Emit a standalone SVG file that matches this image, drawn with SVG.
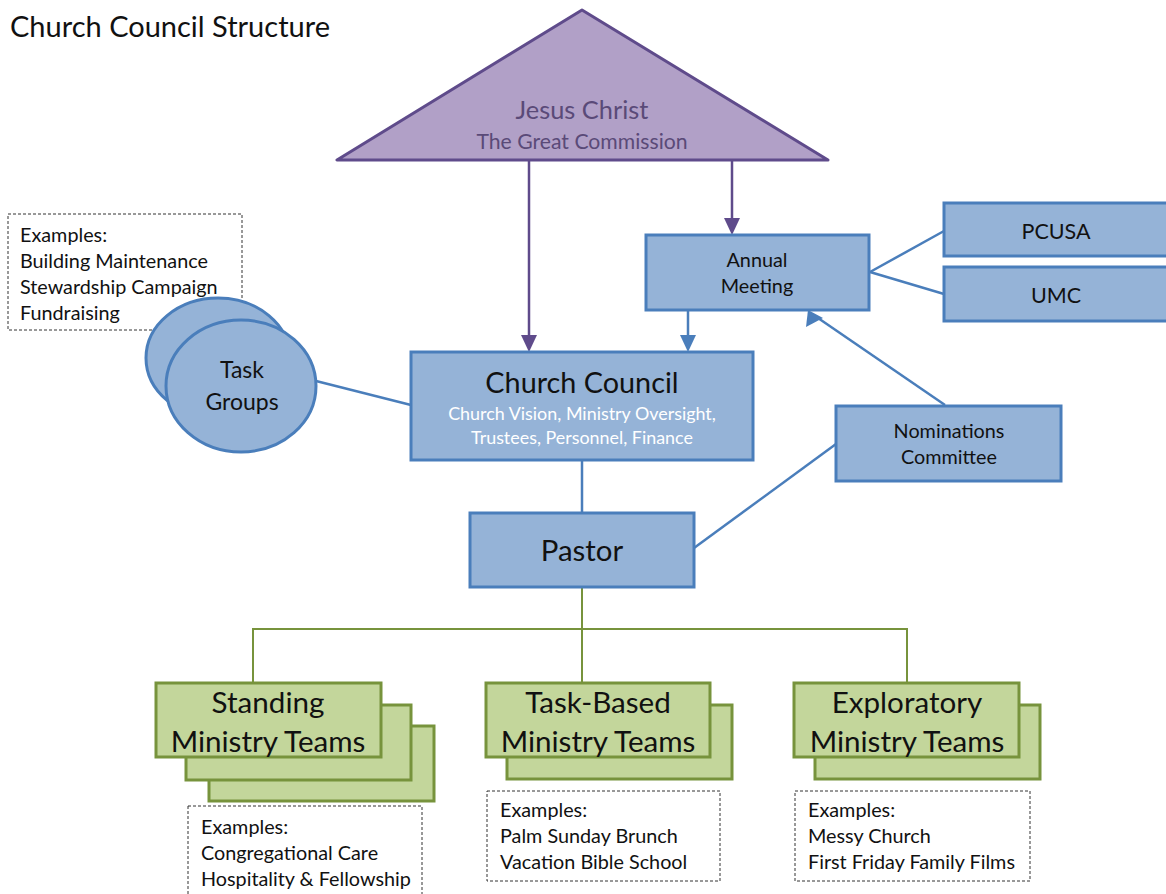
<svg xmlns="http://www.w3.org/2000/svg" width="1166" height="894" viewBox="0 0 1166 894">
<style>
text{font-family:Lato,"Open Sans","Liberation Sans",sans-serif;fill:#111;text-anchor:middle}
.blue{fill:#95b3d7;stroke:#4a7ebb;stroke-width:3}
.green{fill:#c3d69b;stroke:#77933c;stroke-width:3}
.ex{fill:#fff;stroke:#333;stroke-width:1;stroke-dasharray:3 2}
.exT{text-anchor:start;font-size:19.8px}
.bl{stroke:#4a7ebb;stroke-width:2.5;fill:none}
.pl{stroke:#5f4b8b;stroke-width:2.5;fill:none}
.gl{stroke:#77933c;stroke-width:2;fill:none}
.big{font-size:29.6px}
.mid{font-size:19.8px}
</style>
<rect width="1166" height="894" fill="#fff"/>
<text x="10" y="37" style="text-anchor:start;font-size:29px">Church Council Structure</text>

<g id="connectors">
<line class="pl" x1="529" y1="161" x2="529" y2="337"/>
<line class="pl" x1="732" y1="161" x2="732" y2="220"/>
<line class="bl" x1="688" y1="310" x2="688" y2="337"/>
<line class="bl" x1="945" y1="405" x2="818" y2="318"/>
<line class="bl" x1="870" y1="272" x2="944" y2="231"/>
<line class="bl" x1="870" y1="272" x2="944" y2="294"/>
<line class="bl" x1="582" y1="460" x2="582" y2="513"/>
<line class="bl" x1="694" y1="548" x2="836" y2="444"/>
<line class="bl" x1="316" y1="381" x2="411" y2="405"/>
<path class="gl" d="M582,587V629M253,683V629H907V683M582,629V683"/>
<path d="M521,335h16l-8,17z" fill="#5f4b8b"/>
<path d="M724,218h16l-8,17z" fill="#5f4b8b"/>
<path d="M680,335h16l-8,17z" fill="#4a7ebb"/>
<path d="M806,327l2,-17l15,8z" fill="#4a7ebb"/>
</g>

<g id="jesus">
<path d="M582,10L337,160H828Z" fill="#b1a0c7" stroke="#5f4b8b" stroke-width="3" stroke-linejoin="round"/>
<text x="582" y="119" style="font-size:25.4px;fill:#5a4a78">Jesus Christ</text>
<text x="582" y="149" style="font-size:21.2px;fill:#5a4a78">The Great Commission</text>
</g>

<g id="annual">
<rect class="blue" x="646" y="235" width="223" height="75"/>
<text class="mid" x="757" y="267">Annual</text>
<text class="mid" x="757" y="293">Meeting</text>
</g>
<g id="pcusa">
<rect class="blue" x="944" y="203" width="230" height="53"/>
<text x="1056" y="239" style="font-size:21.5px">PCUSA</text>
</g>
<g id="umc">
<rect class="blue" x="944" y="267" width="230" height="54"/>
<text x="1056" y="303" style="font-size:21.5px">UMC</text>
</g>
<g id="nominations">
<rect class="blue" x="836" y="406" width="225" height="75"/>
<text class="mid" x="949" y="438">Nominations</text>
<text class="mid" x="949" y="464">Committee</text>
</g>
<g id="council">
<rect class="blue" x="411" y="352" width="342" height="108"/>
<text x="582" y="393" style="font-size:28.8px">Church Council</text>
<text x="582" y="420" style="font-size:17.9px;fill:#fff">Church Vision, Ministry Oversight,</text>
<text x="582" y="444" style="font-size:17.9px;fill:#fff">Trustees, Personnel, Finance</text>
</g>
<g id="pastor">
<rect class="blue" x="470" y="513" width="224" height="74"/>
<text x="582" y="561" style="font-size:29.4px">Pastor</text>
</g>

<g id="taskgroups-examples">
<rect class="ex" x="8" y="214" width="234" height="116"/>
<text class="exT" x="20" y="242">Examples:</text>
<text class="exT" x="20" y="268">Building Maintenance</text>
<text class="exT" x="20" y="294">Stewardship Campaign</text>
<text class="exT" x="20" y="320">Fundraising</text>
</g>
<g id="taskgroups">
<ellipse class="blue" cx="218" cy="358" rx="72" ry="60"/>
<ellipse class="blue" cx="241" cy="386" rx="75" ry="66"/>
<text x="242" y="378" style="font-size:23px">Task</text>
<text x="242" y="410" style="font-size:23px">Groups</text>
</g>

<g id="standing">
<rect class="green" x="209" y="726" width="225" height="75"/>
<rect class="green" x="186" y="705" width="225" height="75"/>
<rect class="green" x="156" y="683" width="225" height="74"/>
<text class="big" x="268" y="713">Standing</text>
<text class="big" x="268" y="752">Ministry Teams</text>
</g>
<g id="taskbased">
<rect class="green" x="507" y="705" width="225" height="74"/>
<rect class="green" x="486" y="683" width="224" height="74"/>
<text class="big" x="598" y="713">Task-Based</text>
<text class="big" x="598" y="752">Ministry Teams</text>
</g>
<g id="exploratory">
<rect class="green" x="815" y="705" width="225" height="74"/>
<rect class="green" x="794" y="683" width="225" height="74"/>
<text class="big" x="907" y="713">Exploratory</text>
<text class="big" x="907" y="752">Ministry Teams</text>
</g>

<g id="standing-examples">
<rect class="ex" x="188" y="806" width="234" height="100"/>
<text class="exT" x="201" y="834">Examples:</text>
<text class="exT" x="201" y="860">Congregational Care</text>
<text class="exT" x="201" y="886">Hospitality &amp; Fellowship</text>
</g>
<g id="taskbased-examples">
<rect class="ex" x="487" y="791" width="233" height="90"/>
<text class="exT" x="500" y="817">Examples:</text>
<text class="exT" x="500" y="843">Palm Sunday Brunch</text>
<text class="exT" x="500" y="869">Vacation Bible School</text>
</g>
<g id="exploratory-examples">
<rect class="ex" x="795" y="791" width="235" height="90"/>
<text class="exT" x="808" y="817">Examples:</text>
<text class="exT" x="808" y="843">Messy Church</text>
<text class="exT" x="808" y="869">First Friday Family Films</text>
</g>
</svg>
